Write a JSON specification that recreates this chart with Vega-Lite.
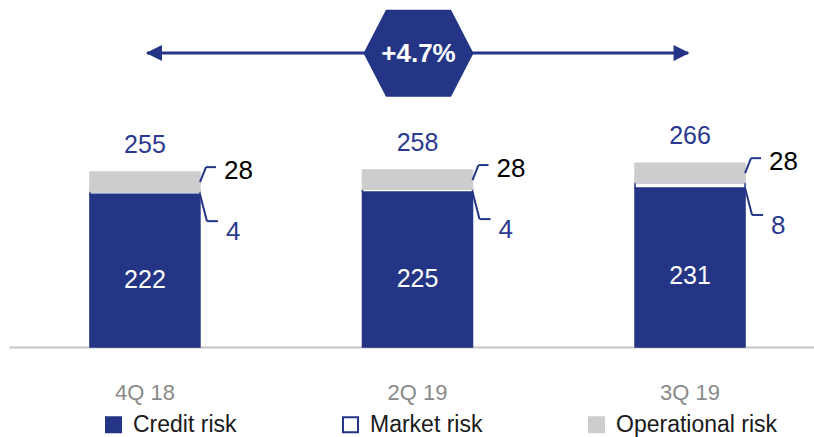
{
  "$schema": "https://vega.github.io/schema/vega-lite/v6.json",
  "width": 814,
  "height": 347,
  "autosize": {"type": "none"},
  "padding": {"left": 0, "top": 0, "right": 0, "bottom": 90},
  "background": "white",
  "config": {"view": {"stroke": null}, "font": "Liberation Sans"},
  "datasets": {
    "parts": [
      {"quarter": "4Q 18", "risk": "Credit risk", "value": 222},
      {"quarter": "4Q 18", "risk": "Market risk", "value": 4},
      {"quarter": "4Q 18", "risk": "Operational risk", "value": 28},
      {"quarter": "2Q 19", "risk": "Credit risk", "value": 225},
      {"quarter": "2Q 19", "risk": "Market risk", "value": 4},
      {"quarter": "2Q 19", "risk": "Operational risk", "value": 28},
      {"quarter": "3Q 19", "risk": "Credit risk", "value": 231},
      {"quarter": "3Q 19", "risk": "Market risk", "value": 8},
      {"quarter": "3Q 19", "risk": "Operational risk", "value": 28}
    ],
    "totals": [
      {"quarter": "4Q 18", "credit": 222, "market": 4, "operational": 28, "total": 255},
      {"quarter": "2Q 19", "credit": 225, "market": 4, "operational": 28, "total": 258},
      {"quarter": "3Q 19", "credit": 231, "market": 8, "operational": 28, "total": 266}
    ]
  },
  "layer": [
    {
      "data": {"name": "parts"},
      "transform": [
        {"calculate": "indexof(['Credit risk','Market risk','Operational risk'], datum.risk)", "as": "idx"}
      ],
      "mark": {"type": "bar", "strokeWidth": 1.5},
      "encoding": {
        "x": {
          "field": "quarter", "type": "nominal",
          "sort": null,
          "scale": {"domain": ["4Q 18", "2Q 19", "3Q 19"], "range": [9, 814], "paddingInner": 0.5963, "paddingOuter": 0.275, "align": 0.54},
          "axis": {"title": null, "ticks": false, "tickSize": 0, "labelPadding": 35, "labelFontSize": 22, "labelColor": "#8a8a8a", "domainColor": "#c6c6c6", "domainWidth": 2, "labelAngle": 0, "grid": false}
        },
        "y": {"field": "value", "type": "quantitative", "stack": "zero", "scale": {"domain": [0, 504], "nice": false, "zero": true}, "axis": null},
        "order": {"field": "idx", "type": "quantitative", "sort": "ascending"},
        "fill": {
          "field": "risk", "type": "nominal",
          "scale": {"domain": ["Credit risk", "Market risk", "Operational risk"], "range": ["#253585", "#ffffff", "#cdcdcf"]},
          "legend": {"title": null, "orient": "none", "legendX": 102, "legendY": 413, "direction": "horizontal", "symbolType": "square", "symbolSize": 225, "symbolStrokeWidth": 2, "labelFontSize": 23, "labelColor": "#1a1a1a", "labelOffset": 8, "columnPadding": 102, "padding": 0, "labelLimit": 300}
        },
        "stroke": {
          "field": "risk", "type": "nominal",
          "scale": {"domain": ["Credit risk", "Market risk", "Operational risk"], "range": ["#253585", "#253585", "#cdcdcf"]},
          "legend": {"title": null, "orient": "none", "legendX": 102, "legendY": 413, "direction": "horizontal", "symbolType": "square", "symbolSize": 225, "symbolStrokeWidth": 2, "labelFontSize": 23, "labelColor": "#1a1a1a", "labelOffset": 8, "columnPadding": 102, "padding": 0, "labelLimit": 300}
        }
      }
    },
    {
      "data": {"name": "totals"},
      "transform": [
        {"calculate": "datum.credit + datum.market + datum.operational", "as": "top"},
        {"calculate": "datum.credit / 2", "as": "creditMid"}
      ],
      "layer": [
        {
          "mark": {"type": "text", "fontSize": 25, "color": "#2b3990", "dy": -27, "baseline": "middle"},
          "encoding": {
            "x": {"field": "quarter", "type": "nominal"},
            "y": {"field": "top", "type": "quantitative"},
            "text": {"field": "total"}
          }
        },
        {
          "mark": {"type": "text", "fontSize": 25, "color": "#ffffff", "dy": 9, "baseline": "middle"},
          "encoding": {
            "x": {"field": "quarter", "type": "nominal"},
            "y": {"field": "creditMid", "type": "quantitative"},
            "text": {"field": "credit"}
          }
        },
        {
          "mark": {"type": "rule", "color": "#253585", "strokeWidth": 2, "yOffset": 10, "y2Offset": -5, "x2Offset": 6},
          "encoding": {
            "x": {"field": "quarter", "type": "nominal", "bandPosition": 1},
            "x2": {"field": "quarter", "bandPosition": 1},
            "y": {"field": "top", "type": "quantitative"},
            "y2": {"field": "top"}
          }
        },
        {
          "mark": {"type": "rule", "color": "#253585", "strokeWidth": 2, "yOffset": -5, "xOffset": 6, "x2Offset": 16},
          "encoding": {
            "x": {"field": "quarter", "type": "nominal", "bandPosition": 1},
            "x2": {"field": "quarter", "bandPosition": 1},
            "y": {"field": "top", "type": "quantitative"}
          }
        },
        {
          "mark": {"type": "text", "fontSize": 26, "color": "#000000", "dx": 24, "dy": -1, "align": "left", "baseline": "middle"},
          "encoding": {
            "x": {"field": "quarter", "type": "nominal", "bandPosition": 1},
            "y": {"field": "top", "type": "quantitative"},
            "text": {"field": "operational"}
          }
        },
        {
          "mark": {"type": "rule", "color": "#253585", "strokeWidth": 2, "yOffset": 0, "y2Offset": 27, "x2Offset": 7},
          "encoding": {
            "x": {"field": "quarter", "type": "nominal", "bandPosition": 1},
            "x2": {"field": "quarter", "bandPosition": 1},
            "y": {"field": "credit", "type": "quantitative"},
            "y2": {"field": "credit"}
          }
        },
        {
          "mark": {"type": "rule", "color": "#253585", "strokeWidth": 2, "yOffset": 27, "xOffset": 7, "x2Offset": 18},
          "encoding": {
            "x": {"field": "quarter", "type": "nominal", "bandPosition": 1},
            "x2": {"field": "quarter", "bandPosition": 1},
            "y": {"field": "credit", "type": "quantitative"}
          }
        },
        {
          "mark": {"type": "text", "fontSize": 26, "color": "#2b3990", "dx": 26, "dy": 38, "align": "left", "baseline": "middle"},
          "encoding": {
            "x": {"field": "quarter", "type": "nominal", "bandPosition": 1},
            "y": {"field": "credit", "type": "quantitative"},
            "text": {"field": "market"}
          }
        }
      ]
    },
    {
      "data": {"values": [{}]},
      "layer": [
        {
          "mark": {"type": "rule", "color": "#253585", "strokeWidth": 3, "xOffset": 2, "x2Offset": -2},
          "encoding": {
            "x": {"datum": "4Q 18"},
            "x2": {"datum": "3Q 19"},
            "y": {"datum": 427}
          }
        },
        {
          "mark": {"type": "point", "filled": true, "opacity": 1, "color": "#253585", "size": 256, "shape": "M-1,0L1,-1L1,1Z", "xOffset": 9},
          "encoding": {
            "x": {"datum": "4Q 18"},
            "y": {"datum": 427}
          }
        },
        {
          "mark": {"type": "point", "filled": true, "opacity": 1, "color": "#253585", "size": 256, "shape": "M1,0L-1,-1L-1,1Z", "xOffset": -8.5},
          "encoding": {
            "x": {"datum": "3Q 19"},
            "y": {"datum": 427}
          }
        },
        {
          "mark": {"type": "point", "filled": true, "opacity": 1, "color": "#253585", "size": 12100, "shape": "M-1,0L-0.591,-0.791L0.591,-0.791L1,0L0.591,0.791L-0.591,0.791Z", "xOffset": 1},
          "encoding": {
            "x": {"datum": "2Q 19"},
            "y": {"datum": 426.6}
          }
        },
        {
          "mark": {"type": "text", "fontSize": 26, "fontWeight": "bold", "color": "#ffffff", "baseline": "middle", "dy": 1, "xOffset": 1},
          "encoding": {
            "x": {"datum": "2Q 19"},
            "y": {"datum": 426.6},
            "text": {"value": "+4.7%"}
          }
        }
      ]
    }
  ]
}
